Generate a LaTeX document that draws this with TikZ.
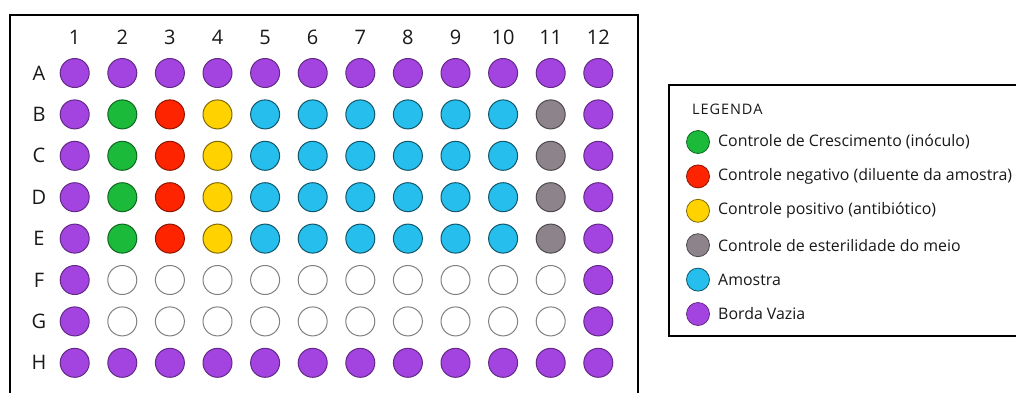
\documentclass[tikz,border=0pt]{standalone}
\usepackage{fontspec}
\setmainfont{Open Sans}
\definecolor{cpurple}{RGB}{164,68,224}
\definecolor{cgreen}{RGB}{28,186,58}
\definecolor{cred}{RGB}{255,36,0}
\definecolor{cyellow}{RGB}{255,210,0}
\definecolor{cblue}{RGB}{38,190,236}
\definecolor{cgray}{RGB}{140,132,138}
\definecolor{ctext}{RGB}{25,25,25}
\tikzset{
  well/.style={circle, minimum size=29pt, inner sep=0pt, line width=1pt},
  wP/.style={well, fill=cpurple, draw=cpurple!60!black},
  wG/.style={well, fill=cgreen, draw=cgreen!55!black},
  wR/.style={well, fill=cred, draw=cred!55!black},
  wY/.style={well, fill=cyellow, draw=cyellow!50!black},
  wB/.style={well, fill=cblue, draw=cblue!45!black},
  wS/.style={well, fill=cgray, draw=cgray!55!black},
  wE/.style={well, fill=white, draw=black!50},
  lab/.style={font=\fontsize{20}{20}\selectfont, text=ctext, inner sep=0pt},
  lwell/.style={circle, minimum size=23pt, inner sep=0pt, line width=0.8pt},
  ltext/.style={font=\fontsize{15.9}{16}\selectfont, text=ctext, anchor=west, inner sep=0pt},
  frame/.style={draw=black, line width=2.5pt},
  lframe/.style={draw=black, line width=2pt}
}
\begin{document}
\begin{tikzpicture}[x=1pt,y=-1pt]
\clip (0,0) rectangle (1016,392);
\fill[white] (0,0) rectangle (1016,392);
% plate frame
\draw[frame] (10,15) rectangle (638,420);
% column labels
\foreach \c in {1,...,12}{
  \node[lab] (col\c) at ({74.7+47.6*(\c-1)},37) {\c};
}
% row labels
\foreach \L [count=\i from 0] in {A,B,C,D,E,F,G,H}{
  \node[lab] (row\L) at (39,{73+41.4*\i}) {\L};
}
% wells
\foreach \r [count=\i from 0] in {A,B,C,D,E,F,G,H}{
  \foreach \c in {1,...,12}{
    \pgfmathsetmacro{\xx}{74.7+47.6*(\c-1)}
    \pgfmathsetmacro{\yy}{73+41.4*\i}
    \def\st{wE}
    \ifnum\i=0 \def\st{wP}\fi
    \ifnum\i=7 \def\st{wP}\fi
    \ifnum\c=1 \def\st{wP}\fi
    \ifnum\c=12 \def\st{wP}\fi
    \ifnum\i>0 \ifnum\i<5
      \ifnum\c=2 \def\st{wG}\fi
      \ifnum\c=3 \def\st{wR}\fi
      \ifnum\c=4 \def\st{wY}\fi
      \ifnum\c>4 \ifnum\c<11 \def\st{wB}\fi\fi
      \ifnum\c=11 \def\st{wS}\fi
    \fi\fi
    \node[\st] (w\r\c) at (\xx,\yy) {};
  }
}
% legend
\draw[lframe] (669,85) rectangle (1030,336);
\node[font=\fontsize{14.5}{15}\selectfont, text=ctext, anchor=west, inner sep=0pt] (legtitle) at (692,109) {L\kern0.9pt E\kern0.9pt G\kern0.9pt E\kern0.9pt N\kern0.9pt D\kern0.9pt A};
\foreach \s/\t [count=\i from 0] in {wG/Controle de Crescimento (inóculo),wR/Controle negativo (diluente da amostra),wY/Controle positivo (antibiótico),wS/Controle de esterilidade do meio,wB/Amostra,wP/Borda Vazia}{
  \node[\s, lwell] (lw\i) at (698,{142+34.4*\i}) {};
  \node[ltext] (lt\i) at (718,{142+34.4*\i}) {\t};
}
\end{tikzpicture}
\end{document}
